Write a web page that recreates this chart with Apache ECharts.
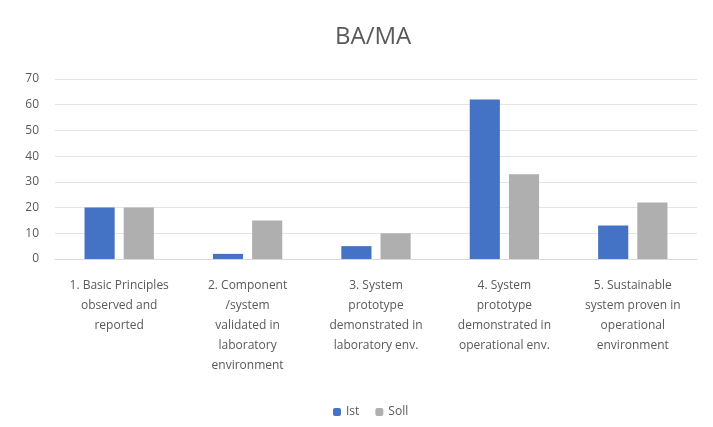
<!DOCTYPE html>
<html>
<head>
<meta charset="utf-8">
<script src="https://cdn.jsdelivr.net/npm/echarts@6/dist/echarts.min.js"></script>
<style>
html, body { margin: 0; padding: 0; background: #fff; }
#chart { width: 713px; height: 427px; }
</style>
</head>
<body>
<div id="chart"></div>
<script>
var categories = [
	'1. Basic Principles\nobserved and\nreported',
	'2. Component\n/system\nvalidated in\nlaboratory\nenvironment',
	'3. System\nprototype\ndemonstrated in\nlaboratory env.',
	'4. System\nprototype\ndemonstrated in\noperational env.',
	'5. Sustainable\nsystem proven in\noperational\nenvironment'
];
var ist = [20, 2, 5, 62, 13];
var soll = [20, 15, 10, 33, 22];
var yTicks = [0, 10, 20, 30, 40, 50, 60, 70];

var chart = echarts.init(document.getElementById('chart'));
var textColor = '#595959';

chart.setOption({
	animation: false,
	textStyle: { fontFamily: 'Open Sans' },
	title: {
		text: 'BA/MA',
		left: 330,
		top: 20,
		textStyle: { fontSize: 24, fontWeight: 'normal', color: textColor, fontFamily: 'Open Sans' }
	},
	legend: {
		bottom: 4,
		left: 328,
		itemWidth: 8,
		itemHeight: 8,
		itemGap: 16,
		textStyle: { fontSize: 12, color: textColor },
		data: ['Ist', 'Soll']
	},
	grid: { left: 55, right: 16, top: 79, bottom: 168, containLabel: false },
	xAxis: {
		type: 'category',
		data: categories,
		axisTick: { show: false },
		axisLine: { lineStyle: { color: '#d9d9d9' } },
		axisLabel: { color: textColor, fontSize: 12, lineHeight: 20, margin: 17, interval: 0 }
	},
	yAxis: {
		type: 'value',
		min: yTicks[0],
		max: yTicks[yTicks.length - 1],
		interval: 10,
		axisLine: { show: false },
		axisTick: { show: false },
		axisLabel: { color: textColor, fontSize: 12, margin: 16 },
		splitLine: { lineStyle: { color: '#e4e4e4' } }
	},
	series: [
		{
			name: 'Ist',
			type: 'bar',
			data: ist,
			barGap: '30%',
			barCategoryGap: '46%',
			itemStyle: { color: '#4472c4' }
		},
		{
			name: 'Soll',
			type: 'bar',
			data: soll,
			itemStyle: { color: '#afafaf' }
		}
	]
});
</script>
</body>
</html>
